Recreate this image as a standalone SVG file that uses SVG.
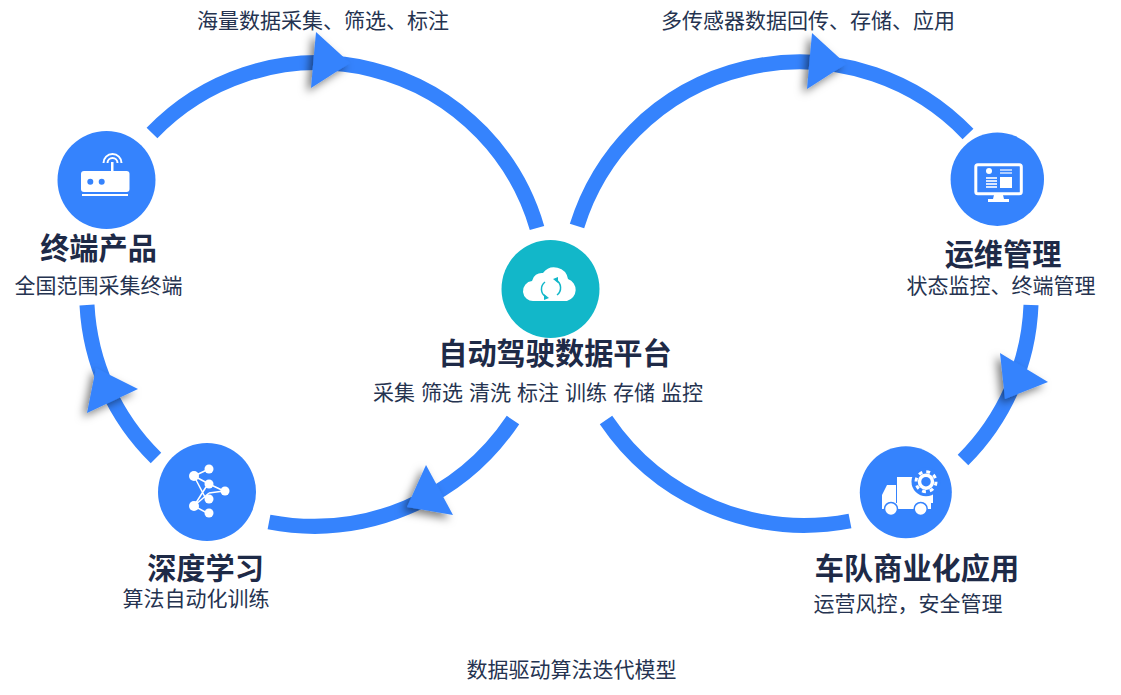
<svg xmlns="http://www.w3.org/2000/svg" width="1121" height="695" viewBox="0 0 1121 695">
<style>
.arc{fill:none;stroke:#3583fd;stroke-width:15}
.head{fill:#3583fd;filter:url(#sh)}
.disc{fill:#3583fd}
.t{font-family:"Noto Sans CJK SC","Liberation Sans",sans-serif;fill:#1e2a47;text-anchor:middle}
.title{font-size:29.200px;font-weight:700}
.sub{font-size:21px;fill:#253350}
.w{fill:#fff}
.wl{fill:none;stroke:#fff;stroke-width:2}
</style>
<defs>
<filter id="sh" x="-50%" y="-50%" width="200%" height="200%"><feDropShadow dx="-4" dy="4" stdDeviation="4" flood-color="#000" flood-opacity=".5"/></filter>
</defs>
<rect width="1121" height="695" fill="#fff"/>
<g id="connectors">
<path class="arc" d="M152 133A229 229 0 0 1 537 228"/>
<path class="arc" d="M513 420A240 240 0 0 1 269 522"/>
<path class="arc" d="M156 458A231 231 0 0 1 87 305"/>
<path class="arc" d="M577 226A233 233 0 0 1 968 134"/>
<path class="arc" d="M1031 305A231 231 0 0 1 963 460"/>
<path class="arc" d="M850 521A240 240 0 0 1 606 420"/>
<polygon class="head" points="316,32 350,63 311,88"/>
<polygon class="head" points="812,33 846,64 807,89"/>
<polygon class="head" points="1000,353 1048,382 1005,399"/>
<polygon class="head" points="426,465 453,515 407,507"/>
<polygon class="head" points="96,368 138,389 87,413"/>
</g>
<g id="node-terminal">
<circle class="disc" cx="106.500" cy="180" r="49"/>
<rect class="w" x="81" y="171" width="48.500" height="21" rx="3"/>
<circle cx="90.300" cy="181.700" r="3" fill="#3583fd"/><circle cx="101.700" cy="181.700" r="3" fill="#3583fd"/>
<rect class="w" x="82" y="194" width="46" height="2"/>
<rect class="w" x="111" y="162" width="2.500" height="10"/>
<path class="wl" d="M103.500 163a9 9 0 0 1 18 0M107.500 163a5 5 0 0 1 10 0"/>
<text class="t title" x="98.500" y="259">终端产品</text>
<text class="t sub" x="98.500" y="293">全国范围采集终端</text>
</g>
<g id="node-ops">
<circle class="disc" cx="997.300" cy="179.200" r="46.700"/>
<rect x="975.800" y="164.800" width="45.500" height="29" rx="2" fill="none" stroke="#fff" stroke-width="3"/>
<circle class="w" cx="989" cy="171" r="3"/>
<path d="M1000 170h12M1000 173h12" stroke="#d8e6ff" stroke-width="1.500"/>
<path d="M986 178h11M986 181h11M986 184h11M986 187h11" stroke="#d8e6ff" stroke-width="2"/>
<rect class="w" x="1000" y="177" width="12" height="11"/>
<path class="w" d="M994 195h9l1 4h5v3h-21v-3h5z"/>
<text class="t title" x="1003" y="265">运维管理</text>
<text class="t sub" x="1001" y="293">状态监控、终端管理</text>
</g>
<g id="node-platform">
<circle cx="550.500" cy="289" r="49" fill="#12b7c9"/>
<path class="w" d="M534 301a10 10 0 0 1-2-20a10 10 0 0 1 11-8a14 14 0 0 1 25 6a11.500 11.500 0 0 1 -1 22z"/>
<path d="M556 280a9 9 0 0 1 1 15M546 297a9 9 0 0 1-1-15" fill="none" stroke="#12b7c9" stroke-width="1.500"/>
<path d="M553 279l5-2v6zM549 298l-5 2v-6z" fill="#12b7c9"/>
<text class="t title" x="555" y="364">自动驾驶数据平台</text>
<text class="t sub" x="538" y="400" word-spacing="1.300">采集 筛选 清洗 标注 训练 存储 监控</text>
</g>
<g id="node-learning">
<circle class="disc" cx="207" cy="492" r="49"/>
<path d="M194 476l15-7M194 476l15 8M209 484l15 7M194 506l15-13M194 506l15 8M209 493l15-2M194 476l12 23M206 487l-12 19" fill="none" stroke="#fff" stroke-width="1.500"/>
<g class="w"><circle cx="194" cy="476" r="5"/><circle cx="209" cy="469" r="4.500"/><circle cx="209" cy="484" r="4.500"/><circle cx="225" cy="491" r="4.500"/><circle cx="209" cy="499" r="4.500"/><circle cx="194" cy="506" r="5"/><circle cx="209" cy="513" r="4.500"/></g>
<text class="t title" x="205.500" y="579">深度学习</text>
<text class="t sub" x="196" y="606">算法自动化训练</text>
</g>
<g id="node-fleet">
<circle class="disc" cx="905.800" cy="492.300" r="46"/>
<path class="w" d="M897 477h36v26h-36z"/>
<path class="w" d="M896 485v23h-14v-13l5-10z"/>
<rect class="w" x="882" y="503" width="49" height="6"/>
<circle class="w" cx="891" cy="509" r="6.500" stroke="#3583fd" stroke-width="1.500"/>
<circle class="w" cx="920.700" cy="509" r="6.500" stroke="#3583fd" stroke-width="1.500"/>
<circle class="disc" cx="926" cy="481.700" r="14.500"/>
<circle cx="926" cy="481.700" r="6.500" fill="none" stroke="#fff" stroke-width="3.500"/>
<circle cx="926" cy="481.700" r="10" fill="none" stroke="#fff" stroke-width="3" stroke-dasharray="3.850 4"/>
<text class="t title" x="917" y="579">车队商业化应用</text>
<text class="t sub" x="908" y="611">运营风控，安全管理</text>
</g>
<g id="captions">
<text class="t sub" x="323" y="28">海量数据采集、筛选、标注</text>
<text class="t sub" x="808" y="28">多传感器数据回传、存储、应用</text>
<text class="t sub" x="571.500" y="677">数据驱动算法迭代模型</text>
</g>
</svg>
